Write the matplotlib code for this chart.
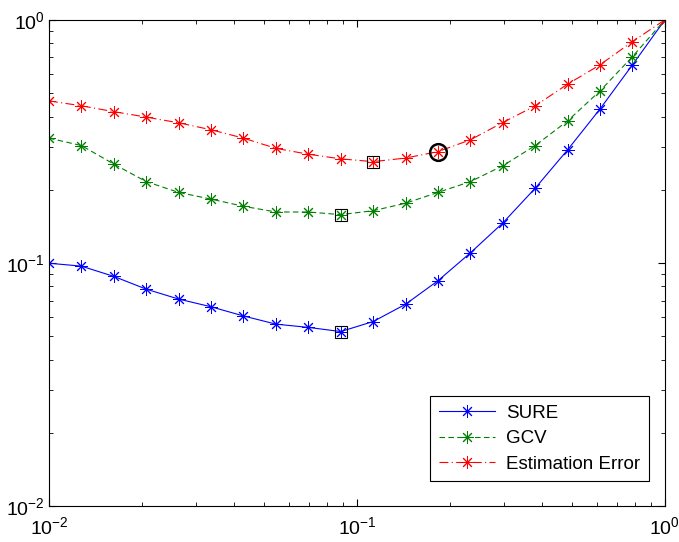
import matplotlib.pyplot as plt

plt.rcParams['font.family'] = ['Liberation Sans', 'DejaVu Sans']
plt.rcParams['mathtext.fontset'] = 'custom'
plt.rcParams['mathtext.rm'] = 'Liberation Sans'
plt.rcParams['mathtext.default'] = 'regular'

# regularisation parameter (log spaced samples)
lam = [0.01, 0.01274, 0.01624, 0.02069, 0.02637, 0.03360, 0.04281, 0.05456,
       0.06952, 0.08859, 0.1129, 0.1438, 0.1833, 0.2336, 0.2976, 0.3793,
       0.4833, 0.6158, 0.7848, 1.0]

sure = [0.0997, 0.097, 0.088, 0.078, 0.071, 0.066, 0.0605, 0.056, 0.0543,
        0.0522, 0.0574, 0.0676, 0.0845, 0.110, 0.146, 0.203, 0.292, 0.430,
        0.653, 1.0]
gcv = [0.326, 0.304, 0.255, 0.216, 0.195, 0.183, 0.171, 0.162, 0.162, 0.158,
       0.164, 0.176, 0.195, 0.216, 0.251, 0.304, 0.384, 0.510, 0.706, 1.0]
est_err = [0.464, 0.443, 0.419, 0.398, 0.377, 0.353, 0.326, 0.296, 0.280,
           0.268, 0.261, 0.270, 0.287, 0.321, 0.378, 0.443, 0.544, 0.653,
           0.814, 1.0]

# index of the minimum of each curve (squares) and of the chosen point (circle)
min_sure = 9
min_gcv = 9
min_err = 10
pick = 12

fig = plt.figure(figsize=(6.79, 5.42), dpi=100)
ax = fig.add_axes([0.0722, 0.0664, 0.907, 0.897])

star = (8, 2, 0)
mk = dict(marker=star, markersize=9, markeredgewidth=0.7, linewidth=0.8)
ax.loglog(lam, sure, color='blue', linestyle='-', label='SURE', **mk)
ax.loglog(lam, gcv, color=(0, 0.5, 0), linestyle=(0, (5, 3)), label='GCV', **mk)
ax.loglog(lam, est_err, color='red', linestyle=(0, (8, 3, 1, 3)),
          label='Estimation Error', **mk)

ax.plot(lam[min_sure], sure[min_sure], 's', mfc='none', mec='black', ms=9, mew=0.8)
ax.plot(lam[min_gcv], gcv[min_gcv], 's', mfc='none', mec='black', ms=9, mew=0.8)
ax.plot(lam[min_err], est_err[min_err], 's', mfc='none', mec='black', ms=9, mew=0.8)
ax.plot(lam[pick], est_err[pick], 'o', mfc='none', mec='black', ms=12, mew=1.8)

ax.set_xlim(0.01, 1)
ax.set_ylim(0.01, 1)
ax.tick_params(which='both', direction='in', top=True, right=True, labelsize=14)
ax.tick_params(which='major', length=5, width=0.8)
ax.tick_params(which='minor', length=3, width=0.6)
ax.tick_params(axis='x', pad=7)
ax.tick_params(axis='y', pad=3)
for s in ax.spines.values():
    s.set_linewidth(0.8)

leg = ax.legend(loc='lower right', bbox_to_anchor=(0.974, 0.051), fontsize=13.5,
                fancybox=False, edgecolor='black', framealpha=1,
                handlelength=3.0, handletextpad=0.6, borderpad=0.45,
                labelspacing=0.45, borderaxespad=0)
leg.get_frame().set_linewidth(0.8)

fig.savefig('out.png', dpi=100)
